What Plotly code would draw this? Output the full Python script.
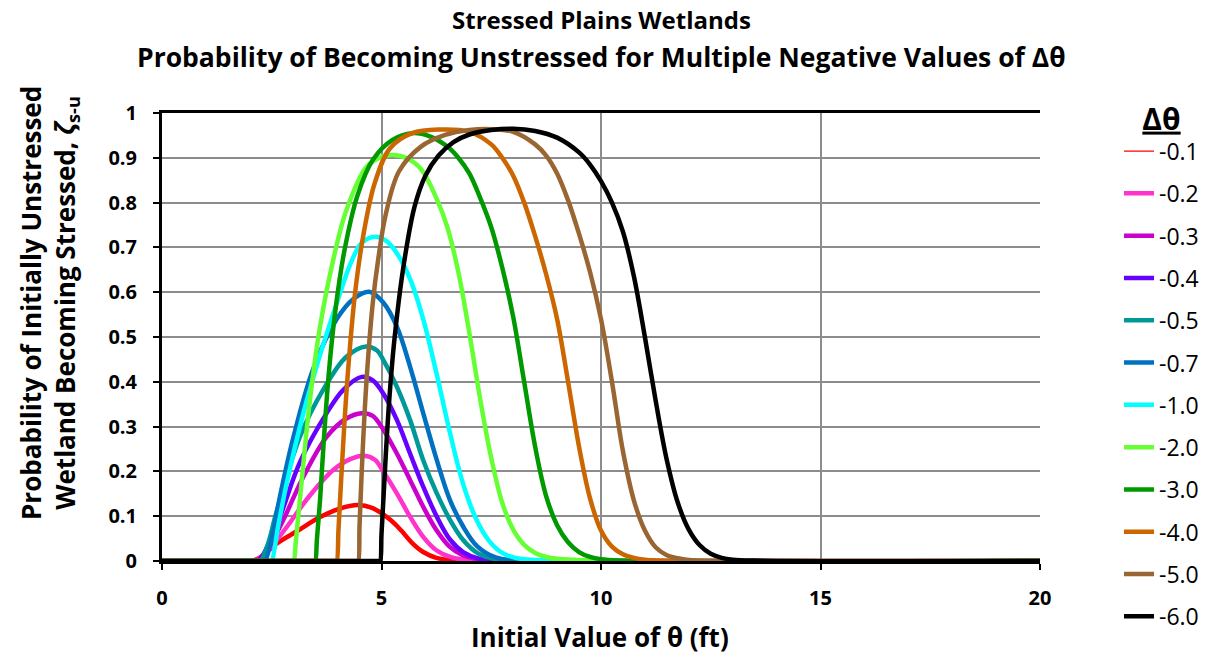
import plotly.graph_objects as go

# Initial theta (ft) and probability zeta_s-u for each negative delta-theta
theta_01 = [0, 2.03, 2.05, 2.3, 2.6, 3.1, 3.6, 4.05, 4.45, 4.8, 5.2, 5.45, 5.7, 5.95, 6.25, 6.7, 7.5, 20]
zeta_01 = [0, 0, 0, 0.012, 0.038, 0.068, 0.098, 0.117, 0.125, 0.118, 0.092, 0.068, 0.04, 0.02, 0.007, 0.001, 0, 0]

theta_02 = [0, 2.08, 2.1, 2.35, 2.6, 2.85, 3.35, 3.9, 4.3, 4.6, 4.85, 5.05, 5.35, 5.65, 5.95, 6.25, 6.6, 7.0, 7.6, 20]
zeta_02 = [0, 0, 0, 0.015, 0.045, 0.077, 0.144, 0.203, 0.228, 0.235, 0.226, 0.198, 0.151, 0.099, 0.054, 0.024, 0.008, 0.002, 0, 0]

theta_03 = [0, 2.13, 2.15, 2.4, 2.76, 3.22, 3.75, 4.2, 4.55, 4.8, 5.05, 5.35, 5.65, 5.95, 6.25, 6.55, 6.85, 7.2, 7.8, 20]
zeta_03 = [0, 0, 0, 0.025, 0.091, 0.188, 0.277, 0.318, 0.33, 0.324, 0.292, 0.24, 0.181, 0.121, 0.069, 0.032, 0.013, 0.004, 0, 0]

theta_04 = [0, 2.18, 2.2, 2.42, 2.69, 3.14, 3.75, 4.13, 4.55, 4.8, 5.04, 5.35, 5.65, 5.95, 6.26, 6.56, 6.86, 7.2, 7.8, 20]
zeta_04 = [0, 0, 0, 0.035, 0.099, 0.22, 0.33, 0.382, 0.411, 0.403, 0.374, 0.315, 0.24, 0.166, 0.099, 0.048, 0.02, 0.006, 0, 0]

theta_05 = [0, 2.23, 2.25, 2.42, 2.61, 3.14, 3.67, 4.2, 4.65, 4.9, 5.04, 5.35, 5.65, 5.95, 6.26, 6.56, 6.86, 7.2, 7.6, 8.2, 20]
zeta_05 = [0, 0, 0, 0.04, 0.11, 0.277, 0.382, 0.456, 0.479, 0.47, 0.449, 0.389, 0.315, 0.225, 0.151, 0.092, 0.047, 0.017, 0.004, 0, 0]

theta_07 = [0, 2.33, 2.35, 2.5, 2.7, 2.99, 3.45, 3.98, 4.36, 4.72, 5.04, 5.35, 5.65, 5.95, 6.26, 6.56, 6.86, 7.17, 7.6, 8.3, 20]
zeta_07 = [0, 0, 0, 0.05, 0.15, 0.275, 0.43, 0.54, 0.585, 0.601, 0.577, 0.523, 0.434, 0.33, 0.225, 0.136, 0.077, 0.034, 0.008, 0, 0]

theta_10 = [0, 2.48, 2.5, 2.65, 2.84, 3.22, 3.6, 3.98, 4.3, 4.55, 4.85, 5.1, 5.35, 5.65, 5.95, 6.25, 6.55, 6.85, 7.15, 7.45, 7.75, 8.05, 8.5, 9.0, 20]
zeta_10 = [0, 0, 0, 0.08, 0.173, 0.33, 0.46, 0.575, 0.665, 0.71, 0.724, 0.715, 0.687, 0.63, 0.54, 0.42, 0.29, 0.175, 0.095, 0.045, 0.018, 0.007, 0.002, 0, 0]

theta_20 = [0, 2.98, 3.0, 3.05, 3.14, 3.37, 3.6, 3.9, 4.2, 4.66, 5.0, 5.25, 5.6, 5.9, 6.25, 6.5, 6.75, 7.0, 7.25, 7.5, 7.75, 8.0, 8.25, 8.5, 8.75, 9.0, 9.5, 10.0, 20]
zeta_20 = [0, 0, 0, 0.045, 0.136, 0.359, 0.523, 0.672, 0.783, 0.88, 0.902, 0.906, 0.898, 0.875, 0.81, 0.745, 0.645, 0.51, 0.36, 0.23, 0.13, 0.07, 0.036, 0.018, 0.009, 0.005, 0.002, 0, 0]

theta_30 = [0, 3.47, 3.49, 3.53, 3.6, 3.68, 3.8, 3.95, 4.15, 4.45, 4.8, 5.25, 5.7, 6.1, 6.5, 6.75, 7.0, 7.25, 7.5, 7.75, 8.0, 8.25, 8.5, 8.75, 9.0, 9.25, 9.5, 9.75, 10.0, 10.5, 11.0, 20]
zeta_30 = [0, 0, 0, 0.05, 0.136, 0.26, 0.42, 0.56, 0.69, 0.815, 0.895, 0.94, 0.955, 0.948, 0.925, 0.9, 0.865, 0.81, 0.745, 0.655, 0.545, 0.4, 0.255, 0.145, 0.08, 0.042, 0.02, 0.009, 0.004, 0.001, 0, 0]

theta_40 = [0, 3.96, 3.98, 4.02, 4.08, 4.15, 4.25, 4.4, 4.6, 4.85, 5.2, 5.7, 6.3, 7.0, 7.5, 7.75, 8.0, 8.25, 8.5, 8.75, 9.0, 9.25, 9.5, 9.75, 10.0, 10.25, 10.5, 10.75, 11.0, 11.5, 20]
zeta_40 = [0, 0, 0, 0.07, 0.18, 0.3, 0.44, 0.6, 0.735, 0.845, 0.922, 0.955, 0.963, 0.958, 0.93, 0.9, 0.86, 0.8, 0.725, 0.64, 0.54, 0.4, 0.255, 0.14, 0.068, 0.032, 0.015, 0.007, 0.003, 0, 0]

theta_50 = [0, 4.45, 4.47, 4.5, 4.55, 4.62, 4.7, 4.8, 4.92, 5.1, 5.4, 5.9, 6.45, 7.0, 7.5, 8.0, 8.5, 8.75, 9.0, 9.25, 9.5, 9.75, 10.0, 10.25, 10.5, 10.75, 11.0, 11.25, 11.5, 11.75, 12.0, 12.5, 20]
zeta_50 = [0, 0, 0, 0.08, 0.2, 0.34, 0.46, 0.575, 0.67, 0.775, 0.87, 0.925, 0.951, 0.962, 0.964, 0.958, 0.93, 0.905, 0.865, 0.805, 0.73, 0.645, 0.54, 0.4, 0.245, 0.135, 0.068, 0.03, 0.013, 0.006, 0.002, 0, 0]

theta_60 = [0, 4.95, 4.97, 5.0, 5.05, 5.12, 5.2, 5.3, 5.5, 5.75, 6.0, 6.3, 6.64, 7.0, 7.5, 8.0, 8.5, 9.0, 9.5, 9.75, 10.0, 10.25, 10.5, 10.75, 11.0, 11.25, 11.5, 11.75, 12.0, 12.25, 12.5, 12.75, 13.0, 13.5, 20]
zeta_60 = [0, 0, 0, 0.06, 0.15, 0.275, 0.39, 0.5, 0.657, 0.79, 0.86, 0.905, 0.935, 0.952, 0.962, 0.965, 0.96, 0.945, 0.912, 0.885, 0.848, 0.8, 0.735, 0.635, 0.5, 0.355, 0.225, 0.13, 0.07, 0.035, 0.016, 0.007, 0.003, 0.001, 0]

delta_labels = ["-0.1", "-0.2", "-0.3", "-0.4", "-0.5", "-0.7", "-1.0", "-2.0", "-3.0", "-4.0", "-5.0", "-6.0"]
series_colors = ["#FF0000", "#FF33CC", "#CC00CC", "#6600FF", "#009999", "#0070C0",
                 "#00FFFF", "#66FF33", "#009900", "#CC6600", "#996633", "#000000"]

x_ticks = [0, 5, 10, 15, 20]
y_ticks = [0, 0.1, 0.2, 0.3, 0.4, 0.5, 0.6, 0.7, 0.8, 0.9, 1]
y_tick_text = ["0", "0.1", "0.2", "0.3", "0.4", "0.5", "0.6", "0.7", "0.8", "0.9", "1"]

series_x = [theta_01, theta_02, theta_03, theta_04, theta_05, theta_07,
            theta_10, theta_20, theta_30, theta_40, theta_50, theta_60]
series_y = [zeta_01, zeta_02, zeta_03, zeta_04, zeta_05, zeta_07,
            zeta_10, zeta_20, zeta_30, zeta_40, zeta_50, zeta_60]

FONT = "Open Sans"

fig = go.Figure()
for i, (xs, ys, name, color) in enumerate(zip(series_x, series_y, delta_labels, series_colors)):
    first = (i == 0)
    if first:
        # the first key is drawn with a hairline
        fig.add_trace(go.Scatter(
            x=[None], y=[None], mode="lines", name=name,
            line=dict(color=color, width=1.2), legendgroup=f"g{i}",
        ))
    fig.add_trace(go.Scatter(
        x=xs, y=ys, mode="lines", name=name,
        line=dict(color=color, width=4.5, shape="spline", smoothing=1.0),
        showlegend=not first, legendgroup=f"g{i}",
        hoverinfo="skip",
    ))

# move the hairline key after the red curve so curves keep their drawing order
fig.data = (fig.data[1], fig.data[0]) + tuple(fig.data[2:])

fig.update_layout(
    width=1214, height=658,
    margin=dict(l=162, r=174, t=113, b=97, autoexpand=False),
    paper_bgcolor="white", plot_bgcolor="white",
    font=dict(family=FONT, color="black"),
    legend=dict(
        title=dict(text="<b><u>Δθ</u></b>", font=dict(size=30, family=FONT), side="top center"),
        x=1.09, xanchor="left", y=1.05, yanchor="top",
        font=dict(size=23, family=FONT, color="black"),
        tracegroupgap=9.4, traceorder="grouped",
        maxheight=650,
        bgcolor="rgba(0,0,0,0)",
    ),
    xaxis=dict(
        range=[0, 20], tickvals=x_ticks, ticktext=[str(v) for v in x_ticks],
        showgrid=True, gridcolor="#8C8C8C", gridwidth=1.5,
        showline=True, linecolor="black", linewidth=3, mirror=True,
        ticks="outside", ticklen=6, tickwidth=1.5, tickcolor="black",
        tickfont=dict(size=20, family=FONT, color="black", weight="bold"),
        ticklabelstandoff=11,
        zeroline=False,
    ),
    yaxis=dict(
        range=[0, 1], tickvals=y_ticks, ticktext=y_tick_text,
        showgrid=True, gridcolor="#8C8C8C", gridwidth=1.5,
        showline=True, linecolor="black", linewidth=3,
        ticks="outside", ticklen=6, tickwidth=1.5, tickcolor="black",
        tickfont=dict(size=20, family=FONT, color="black", weight="bold"),
        ticklabelstandoff=12,
        zeroline=False,
    ),
    annotations=[
        dict(text="<b>Stressed Plains Wetlands</b>",
             xref="paper", yref="paper", x=0.501, y=1.2098, xanchor="center", yanchor="middle",
             showarrow=False, font=dict(size=24, family=FONT, color="black")),
        dict(text="<b>Probability of Becoming Unstressed for Multiple Negative Values of Δθ</b>",
             xref="paper", yref="paper", x=0.501, y=1.125, xanchor="center", yanchor="middle",
             showarrow=False, font=dict(size=26.5, family=FONT, color="black")),
        dict(text="<b>Initial Value of θ (ft)</b>",
             xref="paper", yref="paper", x=0.499, y=-0.1696, xanchor="center", yanchor="middle",
             showarrow=False, font=dict(size=26, family=FONT, color="black")),
        dict(text="<b>Probability of Initially Unstressed</b><br><b>Wetland Becoming Stressed, <i>ζ</i><sub>s-u</sub></b>",
             xref="paper", yref="paper", x=-0.1287, y=0.576, xanchor="center", yanchor="middle",
             textangle=-90, showarrow=False, font=dict(size=26, family=FONT, color="black")),
    ],
)

fig.write_html("out.html")
